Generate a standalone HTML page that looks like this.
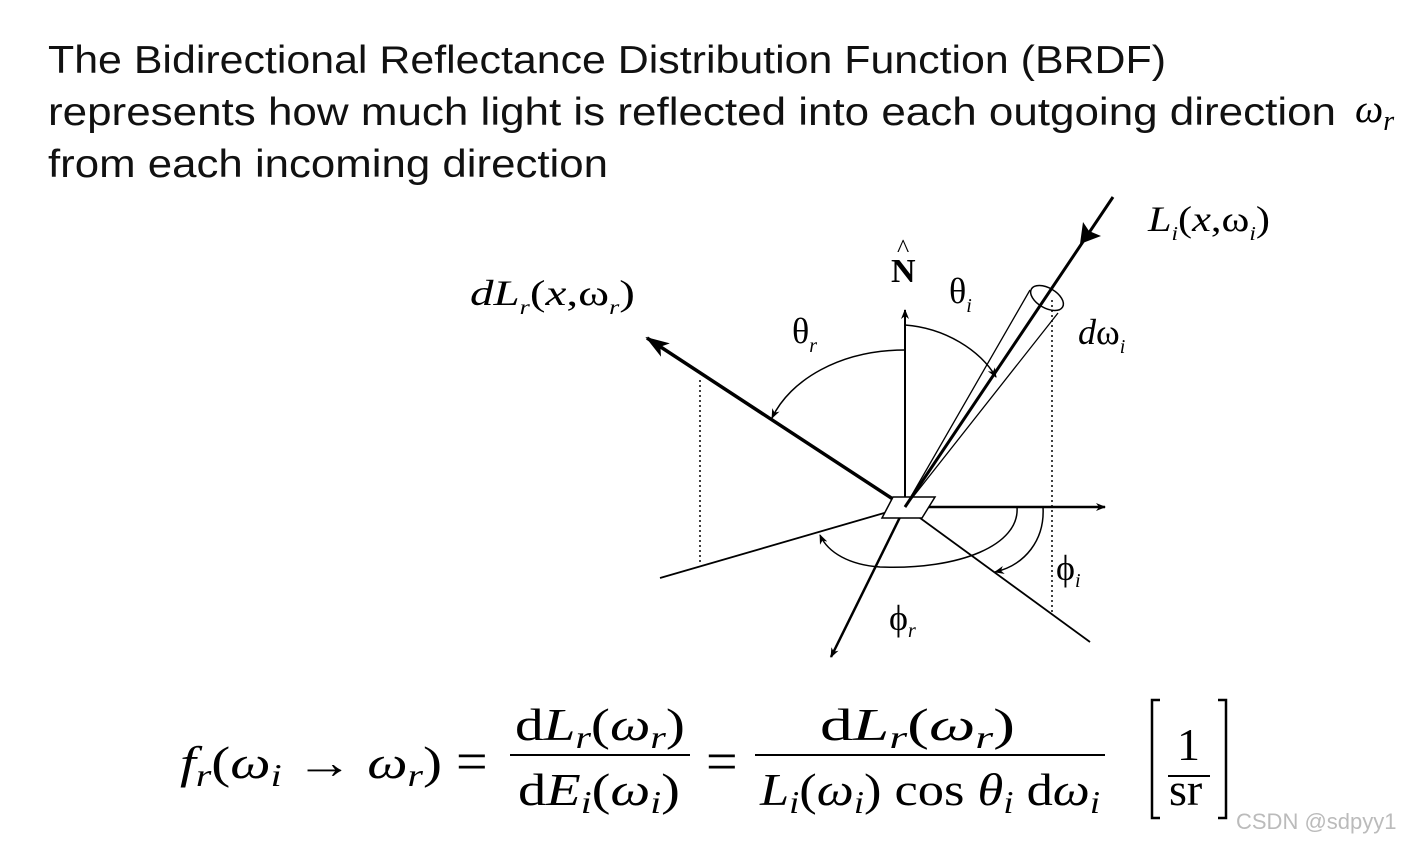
<!DOCTYPE html>
<html><head><meta charset="utf-8"><style>
html,body{margin:0;padding:0;background:#fff;}
svg{display:block;}
.h{font-family:"Liberation Sans",sans-serif;font-size:39px;fill:#111;}
.m{font-family:"Liberation Serif",serif;fill:#000;}
</style></head><body>
<svg width="1425" height="846" viewBox="0 0 1425 846" xmlns="http://www.w3.org/2000/svg">
<defs>
<marker id="a" markerWidth="10" markerHeight="8" refX="9" refY="4" orient="auto" markerUnits="userSpaceOnUse"><path d="M0,0 L10,4 L0,8 L3,4z" fill="#000"/></marker>
<marker id="b" markerWidth="24" markerHeight="16" refX="22" refY="8" orient="auto" markerUnits="userSpaceOnUse"><path d="M0,0 L24,8 L0,16 L6,8z" fill="#000"/></marker>
</defs>
<text class="h" x="48" y="73" textLength="1118" lengthAdjust="spacingAndGlyphs">The Bidirectional Reflectance Distribution Function (BRDF)</text>
<text class="h" x="48" y="125" textLength="1288" lengthAdjust="spacingAndGlyphs">represents how much light is reflected into each outgoing direction</text>
<text class="m" x="1355" y="122" font-size="40" font-style="italic">ω<tspan font-size="28" dy="8">r</tspan></text>
<text class="h" x="48" y="177" textLength="560" lengthAdjust="spacingAndGlyphs">from each incoming direction</text>

<g stroke="#000" fill="none">
<line x1="700" y1="380" x2="700" y2="565" stroke-dasharray="2,3" stroke-width="1.5"/>
<line x1="1052" y1="300" x2="1052" y2="612" stroke-dasharray="2,3" stroke-width="1.5"/>
<line x1="905" y1="507" x2="905" y2="310" stroke-width="2" marker-end="url(#a)"/>
<line x1="905" y1="507" x2="647" y2="338" stroke-width="3.5" marker-end="url(#b)"/>
<line x1="905" y1="507" x2="1105" y2="507" stroke-width="2.5" marker-end="url(#a)"/>
<line x1="660" y1="578" x2="905" y2="507" stroke-width="1.8"/>
<line x1="905" y1="507" x2="1090" y2="642" stroke-width="1.8"/>
<line x1="905" y1="507" x2="831" y2="657" stroke-width="2.5" marker-end="url(#a)"/>
<path d="M882,518 L893,497 L935,497 L922,518 Z" stroke-width="1.5" fill="#fff"/>
<ellipse cx="1047" cy="298" rx="18" ry="10" transform="rotate(30 1047 298)" stroke-width="1.5"/>
<line x1="905" y1="507" x2="1030" y2="290" stroke-width="1.3"/>
<line x1="905" y1="507" x2="1058" y2="313" stroke-width="1.3"/>
<path d="M905,350 C840,350 790,380 772,418" stroke-width="1.5" marker-end="url(#a)"/>
<path d="M905,325 C945,328 980,350 996,377" stroke-width="1.5" marker-end="url(#a)"/>
<path d="M1017,507 C1020,545 960,570 880,567 C850,565 828,553 820,535" stroke-width="1.5" marker-end="url(#a)"/>
<path d="M1043,507 C1045,540 1025,565 995,572" stroke-width="1.5" marker-end="url(#a)"/>
</g>
<line x1="905" y1="507" x2="1113" y2="197" stroke="#000" stroke-width="3"/>
<path d="M1080,244 L1083,222 L1089,231 L1101,236 Z" fill="#000"/>

<g class="m" font-size="36">
<text x="1148" y="231" font-style="italic" textLength="122" lengthAdjust="spacingAndGlyphs">L<tspan font-size="20" dy="9">i</tspan><tspan dy="-9" font-style="normal">(</tspan>x<tspan font-style="normal">,ω</tspan><tspan font-size="20" dy="9">i</tspan><tspan dy="-9" font-style="normal">)</tspan></text>
<text x="470" y="305" font-style="italic" textLength="165" lengthAdjust="spacingAndGlyphs">dL<tspan font-size="20" dy="9">r</tspan><tspan dy="-9" font-style="normal">(</tspan>x<tspan font-style="normal">,ω</tspan><tspan font-size="20" dy="9">r</tspan><tspan dy="-9" font-style="normal">)</tspan></text>
<text x="891" y="282" font-weight="bold" font-size="34">N</text>
<text x="897" y="257" font-size="26">^</text>
<text x="949" y="303">θ<tspan font-size="20" dy="9" font-style="italic">i</tspan></text>
<text x="792" y="343">θ<tspan font-size="20" dy="9" font-style="italic">r</tspan></text>
<text x="1078" y="344" font-style="italic">d<tspan font-style="normal">ω</tspan><tspan font-size="20" dy="9">i</tspan></text>
<text x="1056" y="580">ϕ<tspan font-size="20" dy="7" font-style="italic">i</tspan></text>
<text x="889" y="630">ϕ<tspan font-size="20" dy="7" font-style="italic">r</tspan></text>
</g>

<g class="m" font-size="46">
<text x="180" y="778" textLength="262" lengthAdjust="spacingAndGlyphs"><tspan font-style="italic">f</tspan><tspan font-size="32" font-style="italic" dy="8">r</tspan><tspan dy="-8">(</tspan><tspan font-style="italic">ω</tspan><tspan font-size="32" font-style="italic" dy="8">i</tspan><tspan dy="-8"> → </tspan><tspan font-style="italic">ω</tspan><tspan font-size="32" font-style="italic" dy="8">r</tspan><tspan dy="-8">)</tspan></text>
<text x="456" y="780" font-size="56">=</text>
<text x="515" y="740" textLength="170" lengthAdjust="spacingAndGlyphs">d<tspan font-style="italic">L</tspan><tspan font-size="32" font-style="italic" dy="8">r</tspan><tspan dy="-8">(</tspan><tspan font-style="italic">ω</tspan><tspan font-size="32" font-style="italic" dy="8">r</tspan><tspan dy="-8">)</tspan></text>
<line x1="510" y1="755" x2="690" y2="755" stroke="#000" stroke-width="2"/>
<text x="518" y="805" textLength="162" lengthAdjust="spacingAndGlyphs">d<tspan font-style="italic">E</tspan><tspan font-size="32" font-style="italic" dy="8">i</tspan><tspan dy="-8">(</tspan><tspan font-style="italic">ω</tspan><tspan font-size="32" font-style="italic" dy="8">i</tspan><tspan dy="-8">)</tspan></text>
<text x="706" y="780" font-size="56">=</text>
<text x="820" y="740" textLength="195" lengthAdjust="spacingAndGlyphs">d<tspan font-style="italic">L</tspan><tspan font-size="32" font-style="italic" dy="8">r</tspan><tspan dy="-8">(</tspan><tspan font-style="italic">ω</tspan><tspan font-size="32" font-style="italic" dy="8">r</tspan><tspan dy="-8">)</tspan></text>
<line x1="755" y1="755" x2="1105" y2="755" stroke="#000" stroke-width="2"/>
<text x="760" y="805" textLength="340" lengthAdjust="spacingAndGlyphs"><tspan font-style="italic">L</tspan><tspan font-size="32" font-style="italic" dy="8">i</tspan><tspan dy="-8">(</tspan><tspan font-style="italic">ω</tspan><tspan font-size="32" font-style="italic" dy="8">i</tspan><tspan dy="-8">) cos </tspan><tspan font-style="italic">θ</tspan><tspan font-size="32" font-style="italic" dy="8">i</tspan><tspan dy="-8"> d</tspan><tspan font-style="italic">ω</tspan><tspan font-size="32" font-style="italic" dy="8">i</tspan></text>
<path d="M1160,700 L1152,700 L1152,818 L1160,818 M1218,700 L1226,700 L1226,818 L1218,818" stroke="#000" stroke-width="2.5" fill="none"/>
<text x="1177" y="760">1</text>
<line x1="1168" y1="776" x2="1210" y2="776" stroke="#000" stroke-width="2"/>
<text x="1169" y="805">sr</text>
</g>
<text x="1236" y="829" font-family="Liberation Sans,sans-serif" font-size="22" fill="#bbb">CSDN @sdpyy1</text>
</svg>
</body></html>
